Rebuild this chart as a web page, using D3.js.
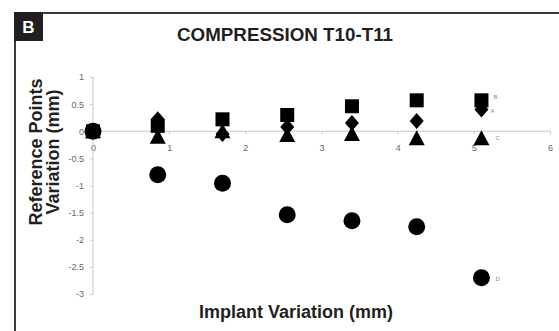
<!DOCTYPE html>
<html lang="en">
<head>
    <meta charset="UTF-8">
    <title>Compression T10-T11</title>
    <style>
        body { margin: 0; background: #fff; }
        #chart-wrapper { width: 559px; height: 331px; }
        text { font-family: 'Liberation Sans', Arial, sans-serif; }
    </style>
</head>
<body>
    <div id="chart-wrapper"></div>

    <script src="https://d3js.org/d3.v7.min.js"></script>
    <script>
        // implant variation (mm), same steps for every reference point
        const implant = [0, 0.85, 1.7, 2.55, 3.4, 4.25, 5.1]
        const pointA = [0, 0.22, -0.05, 0.08, 0.15, 0.19, 0.4]     // diamonds
        const pointB = [0, 0.1, 0.22, 0.3, 0.46, 0.57, 0.57]       // squares
        const pointC = [0, -0.1, 0, -0.07, -0.05, -0.13, -0.13]    // triangles
        const pointD = [0, -0.8, -0.96, -1.54, -1.65, -1.76, -2.7] // circles
        const xTicks = [0, 1, 2, 3, 4, 5, 6]
        const yTicks = [1, 0.5, 0, -0.5, -1, -1.5, -2, -2.5, -3]

        const width = 559
        const height = 331

        const svg = d3.select('#chart-wrapper')
            .append('svg')
            .attr('width', width)
            .attr('height', height)

        // panel frame + letter badge
        svg.append('rect')
            .attr('x', 15).attr('y', 13)
            .attr('width', 560).attr('height', 340)
            .attr('fill', 'none')
            .attr('stroke', '#3a3a3a')
            .attr('stroke-width', 2)
        svg.append('rect')
            .attr('x', 14).attr('y', 12)
            .attr('width', 29).attr('height', 29)
            .attr('fill', '#231f20')
        svg.append('text')
            .attr('x', 28.5).attr('y', 33)
            .attr('text-anchor', 'middle')
            .attr('font-size', 17).attr('font-weight', 'bold')
            .attr('fill', '#fff')
            .text('B')

        svg.append('text')
            .attr('x', 285).attr('y', 41)
            .attr('text-anchor', 'middle')
            .attr('font-size', 18.8).attr('font-weight', 'bold')
            .attr('fill', '#231f20')
            .text('COMPRESSION T10-T11')

        const x = d3.scaleLinear().domain([0, 6]).range([93, 550])
        const y = d3.scaleLinear().domain([-3, 1]).range([294, 77])

        const xAxis = svg.append('g')
            .attr('transform', `translate(0, ${ y(0) })`)
            .call(d3.axisBottom(x).tickValues(xTicks).tickSize(3).tickPadding(10)
                .tickFormat(d3.format('d')))
        const yAxis = svg.append('g')
            .attr('transform', `translate(${ x(0) }, 0)`)
            .call(d3.axisLeft(y).tickValues(yTicks).tickSize(3).tickPadding(6)
                .tickFormat(d => String(d)))

        ;[xAxis, yAxis].forEach(g => {
            g.selectAll('path, line').attr('stroke', '#c8c8c8')
            g.selectAll('text')
                .attr('fill', '#666')
                .attr('font-size', 9)
                .attr('font-family', "'Liberation Sans', Arial, sans-serif")
        })
        xAxis.select('.domain').attr('d', `M${ x(0) },0H${ x(6) }`)
        yAxis.select('.domain').attr('d', `M0,${ y(1) }V${ y(-3) }`)

        const markers = svg.append('g')

        // circles first so the square at the origin stays on top
        markers.selectAll('.ci')
            .data(implant.map((d, i) => [d, pointD[i]]))
            .enter().append('circle')
            .attr('cx', d => x(d[0]))
            .attr('cy', d => y(d[1]))
            .attr('r', 8.5)
            .attr('fill', '#000')

        // diamonds
        markers.selectAll('.di')
            .data(implant.map((d, i) => [d, pointA[i]]))
            .enter().append('path')
            .attr('transform', d => `translate(${ x(d[0]) }, ${ y(d[1]) })`)
            .attr('d', 'M0,-8L7,0L0,8L-7,0Z')
            .attr('fill', '#000')

        // triangles
        markers.selectAll('.tr')
            .data(implant.map((d, i) => [d, pointC[i]]))
            .enter().append('path')
            .attr('transform', d => `translate(${ x(d[0]) }, ${ y(d[1]) })`)
            .attr('d', 'M0,-8L8,7L-8,7Z')
            .attr('fill', '#000')

        // squares
        markers.selectAll('.sq')
            .data(implant.map((d, i) => [d, pointB[i]]))
            .enter().append('rect')
            .attr('x', d => x(d[0]) - 7)
            .attr('y', d => y(d[1]) - 7)
            .attr('width', 14).attr('height', 14)
            .attr('fill', '#000')

        // small series letters beside the last points
        const last = implant.length - 1
        const tags = [
            ['A', pointA[last], 9, 3],
            ['B', pointB[last], 12, -1],
            ['C', pointC[last], 14, 2],
            ['D', pointD[last], 14, 3]
        ]
        svg.append('g').selectAll('text')
            .data(tags)
            .enter().append('text')
            .attr('x', d => x(implant[last]) + d[2])
            .attr('y', d => y(d[1]) + d[3])
            .attr('font-size', 6)
            .attr('fill', '#888')
            .text(d => d[0])

        // axis titles
        svg.append('text')
            .attr('x', 296).attr('y', 318)
            .attr('text-anchor', 'middle')
            .attr('font-size', 18).attr('font-weight', 'bold')
            .attr('fill', '#231f20')
            .text('Implant Variation (mm)')

        const yTitle = svg.append('text')
            .attr('transform', 'translate(0, 152) rotate(-90)')
            .attr('text-anchor', 'middle')
            .attr('font-size', 18).attr('font-weight', 'bold')
            .attr('fill', '#231f20')
        yTitle.append('tspan').attr('x', 0).attr('y', 42).text('Reference Points')
        yTitle.append('tspan').attr('x', 0).attr('y', 59).text('Variation (mm)')
    </script>
</body>
</html>
